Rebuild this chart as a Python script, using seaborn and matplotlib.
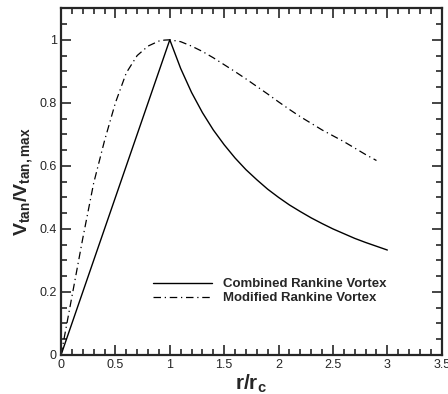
import matplotlib
matplotlib.use("Agg")
import pandas as pd
import matplotlib.pyplot as plt
import seaborn as sns
from matplotlib.ticker import MultipleLocator

sns.set_style("ticks")
plt.rcParams["font.family"] = ["Liberation Sans", "DejaVu Sans"]
plt.rcParams["mathtext.fontset"] = "custom"
plt.rcParams["mathtext.rm"] = "Liberation Sans"
plt.rcParams["mathtext.bf"] = "Liberation Sans:bold"

# --------------------------------------------------
# Data
# --------------------------------------------------

r_combined = [0.0, 1.0, 1.1, 1.2, 1.3, 1.4, 1.5, 1.6, 1.7, 1.8, 1.9, 2.0,
              2.1, 2.2, 2.3, 2.4, 2.5, 2.6, 2.7, 2.8, 2.9, 3.0]
v_combined = [0.0, 1.0, 0.909, 0.833, 0.769, 0.714, 0.667, 0.625, 0.588, 0.556,
              0.526, 0.5, 0.476, 0.455, 0.435, 0.417, 0.4, 0.385, 0.37, 0.357,
              0.345, 0.333]

r_modified = [0.0, 0.1, 0.2, 0.3, 0.4, 0.5, 0.6, 0.7, 0.8, 0.9, 0.95, 1.0,
              1.1, 1.2, 1.3, 1.4, 1.5, 1.6, 1.7, 1.8, 1.9, 2.0, 2.1, 2.2,
              2.4, 2.6, 2.8, 2.9]
v_modified = [0.0, 0.185, 0.37, 0.545, 0.68, 0.80, 0.895, 0.95, 0.98, 0.996,
              0.999, 1.0, 0.994, 0.98, 0.963, 0.943, 0.921, 0.899, 0.876,
              0.852, 0.828, 0.803, 0.779, 0.756, 0.714, 0.677, 0.636, 0.617]

label_combined = "Combined Rankine Vortex"
label_modified = "Modified Rankine Vortex"

combined = pd.DataFrame({"r": r_combined, "v": v_combined})
modified = pd.DataFrame({"r": r_modified, "v": v_modified})

# --------------------------------------------------
# Plot
# --------------------------------------------------

fig = plt.figure(figsize=(4.48, 3.94), dpi=100)
ax = fig.add_axes([0.1362, 0.099, 0.8498, 0.880])

sns.lineplot(data=combined, x="r", y="v", ax=ax, color="black",
             linewidth=1.0, label=label_combined)
sns.lineplot(data=modified, x="r", y="v", ax=ax, color="black",
             linewidth=0.9, linestyle=(0, (6, 3, 1, 3)), label=label_modified)

ax.set_xlim(0, 3.5)
ax.set_ylim(0, 1.1)
ax.xaxis.set_major_locator(MultipleLocator(0.5))
ax.xaxis.set_minor_locator(MultipleLocator(0.1))
ax.yaxis.set_major_locator(MultipleLocator(0.2))
ax.yaxis.set_minor_locator(MultipleLocator(0.05))
ax.xaxis.set_major_formatter(plt.FuncFormatter(lambda v, p: f"{v:g}"))
ax.yaxis.set_major_formatter(plt.FuncFormatter(lambda v, p: f"{v:g}"))

ax.tick_params(which="both", direction="in", top=True, right=True,
               labelsize=9, width=1.2, pad=3)
ax.tick_params(which="major", length=7)
ax.tick_params(which="minor", length=4.5)
for s in ax.spines.values():
    s.set_linewidth(1.6)

ax.set_xlabel(r"$\mathbf{r/r_c}$", fontsize=15, labelpad=1)
ax.set_ylabel(r"$\mathbf{V_{tan}/V_{tan,max}}$", fontsize=14, labelpad=3)

ax.legend(loc="upper left", bbox_to_anchor=(0.224, 0.241), frameon=False,
          borderpad=0, handlelength=4.5, handletextpad=0.8, labelspacing=0.15,
          prop={"weight": "bold", "size": 9.5})

plt.savefig("out.png", dpi=100)
plt.close()
